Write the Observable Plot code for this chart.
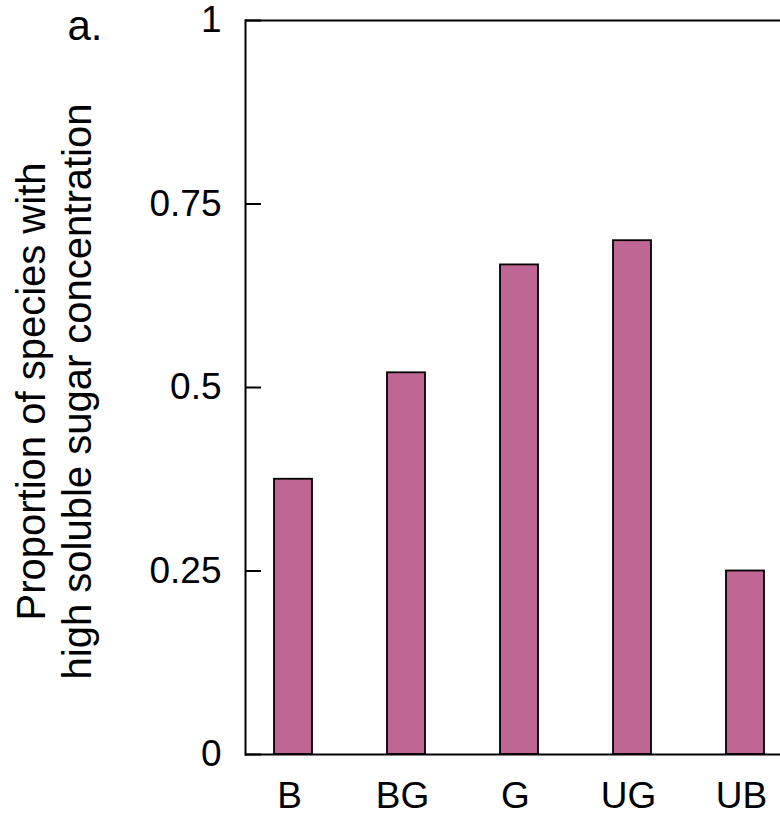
<!DOCTYPE html>
<html>
<head>
<meta charset="utf-8">
<script src="https://cdn.jsdelivr.net/npm/d3@7"></script>
<script src="https://cdn.jsdelivr.net/npm/@observablehq/plot@0.6"></script>
<style>
  html, body { margin: 0; padding: 0; background: #fff; overflow: hidden; }
  svg { font-family: "Liberation Sans", Arial, Helvetica, sans-serif; }
</style>
</head>
<body>
<div id="chart"></div>
<script>
const categories = ["B", "BG", "G", "UG", "UB"];
const proportions = [0.375, 0.52, 0.667, 0.70, 0.25];
const yTicks = [0, 0.25, 0.5, 0.75, 1];
const yTitle = "Proportion of species with\nhigh soluble sugar concentration";
const panelLabel = "a.";

const data = categories.map((c, i) => ({category: c, value: proportions[i]}));

const chart = Plot.plot({
  width: 780,
  height: 818,
  marginLeft: 245,
  marginRight: 0,
  marginTop: 20,
  marginBottom: 64,
  style: {fontFamily: "'Liberation Sans', Arial, Helvetica, sans-serif", background: "#fff", color: "#000"},
  x: {domain: categories, range: [245, 793.4], paddingInner: 0.661, paddingOuter: 0.244},
  y: {domain: [0, 1]},
  marks: [
    Plot.barY(data, {x: "category", y: "value", fill: "#c06695", stroke: "#000", strokeWidth: 1.8}),
    Plot.frame({anchor: "left", stroke: "#000", strokeWidth: 2}),
    Plot.ruleY([0, 1], {stroke: "#000", strokeWidth: 2}),
    Plot.axisY({ticks: yTicks, tickFormat: d => String(d), tickSize: -16, tickPadding: 40, fontSize: 37, strokeWidth: 2, label: null}),
    Plot.axisX({tickSize: 0, tickPadding: 27, fontSize: 37, dx: -4, label: null}),
    Plot.text([yTitle], {frameAnchor: "left", rotate: -90, dx: -192, dy: 4, textAnchor: "middle", lineAnchor: "middle", fontSize: 40, lineHeight: 1.15, fill: "#000"}),
    Plot.text([panelLabel], {frameAnchor: "top-left", dx: -178, dy: 19, textAnchor: "start", lineAnchor: "bottom", fontSize: 42, fill: "#000"})
  ]
});
document.getElementById("chart").appendChild(chart);
</script>
</body>
</html>
